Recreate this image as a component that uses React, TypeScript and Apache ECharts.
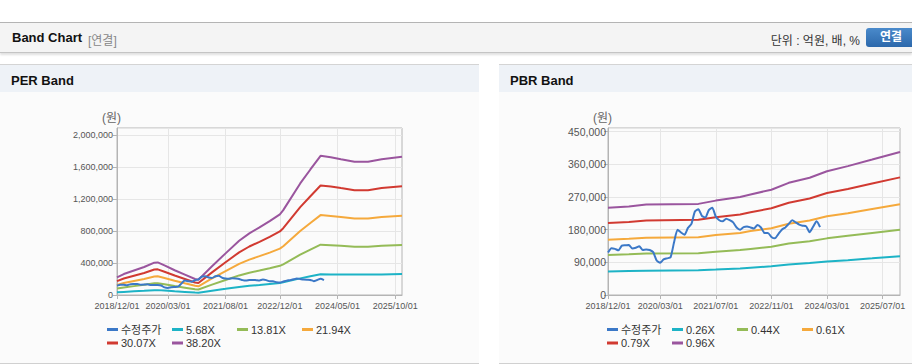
import React, { useEffect, useRef } from "react";
import * as echarts from "echarts";

// ---------- data ----------
const perTickLabels = ["2018/12/01", "2020/03/01", "2021/08/01", "2022/12/01", "2024/05/01", "2025/10/01"];
const pbrTickLabels = ["2018/12/01", "2020/03/01", "2021/07/01", "2022/11/01", "2024/03/01", "2025/07/01"];

const priceName = "수정주가";
const perBandNames = ["5.68X", "13.81X", "21.94X", "30.07X", "38.20X"];
const pbrBandNames = ["0.26X", "0.44X", "0.61X", "0.79X", "0.96X"];

// monthly adjusted price (원), 2018/12 .. 2024/01
const priceValues = [
  117000, 129000, 127000, 123000, 136000, 137000, 138000, 128000, 130000, 134000,
  124000, 125000, 124000, 118000, 95000, 89000, 98000, 101000, 104000, 145000,
  180000, 172000, 166000, 185000, 196000, 230000, 236000, 218000, 213000, 234000,
  240000, 216000, 206000, 203000, 210000, 206000, 200000, 186000, 180000, 187000,
  189000, 186000, 183000, 193000, 186000, 171000, 171000, 160000, 156000, 168000,
  180000, 186000, 196000, 206000, 200000, 194000, 191000, 189000, 173000, 188000,
  203000, 187000,
];

const perBandDates = [
  "2018/12/01", "2019/02/01", "2019/05/01", "2019/08/01", "2019/11/01", "2019/12/01", "2020/02/01",
  "2020/05/01", "2020/08/01", "2020/11/01", "2020/12/01", "2021/04/01", "2021/08/01", "2021/12/01",
  "2022/03/01", "2022/06/01", "2022/09/01", "2022/12/01", "2023/01/01", "2023/06/01", "2023/09/01",
  "2023/12/01", "2024/03/01", "2024/06/01", "2024/10/01", "2025/02/01", "2025/06/01", "2025/12/01",
];
const per568 = [33000, 39000, 46000, 52000, 60000, 61000, 55000, 46000, 38000, 30000, 28000, 54000, 77000, 101000, 115000, 126000, 138000, 150000, 158000, 208000, 234000, 259000, 258000, 256000, 255000, 255000, 258000, 262000];
const per1381 = [80000, 95000, 111000, 127000, 146000, 147000, 134000, 112000, 92000, 72000, 69000, 130000, 188000, 245000, 279000, 306000, 334000, 365000, 384000, 505000, 568000, 630000, 624000, 615000, 603000, 603000, 615000, 625000];
const per2194 = [127000, 150000, 176000, 201000, 232000, 234000, 212000, 178000, 146000, 115000, 109000, 207000, 299000, 390000, 443000, 486000, 531000, 580000, 610000, 801000, 902000, 1000000, 990000, 976000, 957000, 957000, 976000, 992000];
const per3007 = [174000, 206000, 241000, 275000, 319000, 321000, 291000, 244000, 201000, 157000, 150000, 283000, 410000, 534000, 607000, 666000, 728000, 795000, 836000, 1099000, 1236000, 1371000, 1358000, 1338000, 1312000, 1312000, 1338000, 1361000];
const per3820 = [221000, 262000, 306000, 350000, 405000, 408000, 370000, 310000, 255000, 200000, 190000, 360000, 521000, 679000, 771000, 846000, 925000, 1010000, 1062000, 1396000, 1571000, 1742000, 1725000, 1700000, 1667000, 1667000, 1700000, 1729000];

const pbrBandDates = [
  "2018/12/01", "2019/06/01", "2019/11/01", "2021/02/01", "2021/07/01", "2022/02/01", "2022/05/01",
  "2022/11/01", "2023/04/01", "2023/10/01", "2024/03/01", "2024/09/01", "2025/04/01", "2025/12/01",
];
const pbr026 = [65000, 66000, 67000, 68000, 70000, 73000, 75000, 79000, 84000, 88000, 92000, 96000, 101000, 107000];
const pbr044 = [110000, 112000, 114000, 115000, 119000, 124000, 127000, 133000, 142000, 148000, 156000, 163000, 171000, 180000];
const pbr061 = [152000, 155000, 158000, 159000, 165000, 171000, 176000, 184000, 196000, 205000, 217000, 225000, 237000, 250000];
const pbr079 = [198000, 201000, 205000, 207000, 214000, 222000, 228000, 239000, 254000, 266000, 281000, 292000, 307000, 324000];
const pbr096 = [240000, 244000, 249000, 251000, 260000, 270000, 277000, 290000, 309000, 323000, 341000, 355000, 373000, 394000];

const colors = ["#3b78c7", "#1db3c6", "#94bb57", "#f5a93c", "#d13a31", "#9a559e"];

// monthly category axis 2018/12 .. 2025/12
const months: string[] = [];
for (let m = 0; m <= 84; m++) {
  const t = 11 + m;
  months.push(`${2018 + Math.floor(t / 12)}/${String((t % 12) + 1).padStart(2, "0")}/01`);
}

const FONT = '"Liberation Sans", Arial, "Noto Sans CJK KR", sans-serif';

function buildOption(cfg: {
  tickLabels: string[];
  bandNames: string[];
  bandDates: string[];
  bands: number[][];
  yMax: number;
  yInterval: number;
  yFontSize: number;
  yMargin: number;
  gridLeft: number;
  gridWidth: number;
  legendLeft: number;
}) {
  const showAt = (idx: number) => cfg.tickLabels.includes(months[idx]);
  const names = [priceName, ...cfg.bandNames];
  const legends = names.map((n, i) => ({
    data: [n],
    left: cfg.legendLeft + (i % 4) * 65,
    top: 231 + Math.floor(i / 4) * 13.5,
    padding: 0,
    icon: "rect",
    itemWidth: 11,
    itemHeight: 3,
    itemGap: 3,
    textStyle: { fontSize: 11, color: "#333", fontFamily: FONT, padding: [0, 0, 0, -2] },
  }));
  const bandSeries = cfg.bands.map((vals, i) => ({
    name: cfg.bandNames[i],
    type: "line",
    data: cfg.bandDates.map((d, j) => [d, vals[j]]),
    showSymbol: false,
    symbol: "none",
    lineStyle: { width: 2, color: colors[i + 1] },
    itemStyle: { color: colors[i + 1] },
    z: 2,
  }));
  const priceSeries = {
    name: priceName,
    type: "line",
    data: priceValues.map((v, j) => [months[j], v]),
    showSymbol: false,
    symbol: "none",
    smooth: 0.2,
    lineStyle: { width: 2, color: colors[0] },
    itemStyle: { color: colors[0] },
    z: 3,
  };
  return {
    animation: false,
    textStyle: { fontFamily: FONT },
    legend: legends,
    grid: {
      left: cfg.gridLeft,
      top: 35,
      width: cfg.gridWidth,
      height: 167,
      show: true,
      borderColor: "#b4b4b4",
      borderWidth: 1,
      backgroundColor: "transparent",
    },
    xAxis: {
      type: "category",
      data: months,
      boundaryGap: false,
      axisLine: { lineStyle: { color: "#b4b4b4" } },
      axisTick: { interval: (i: number) => showAt(i), length: 4, lineStyle: { color: "#b4b4b4" } },
      axisLabel: {
        interval: (i: number) => showAt(i),
        color: "#555",
        fontSize: 9,
        margin: 6,
        fontFamily: FONT,
      },
      splitLine: { show: true, interval: (i: number) => showAt(i), lineStyle: { color: "#e6e6e6" } },
    },
    yAxis: {
      type: "value",
      min: 0,
      max: cfg.yMax,
      interval: cfg.yInterval,
      name: "(원)",
      nameGap: 4,
      nameTextStyle: { color: "#666", fontSize: 12, padding: [0, 11, 0, 0], fontFamily: FONT },
      axisLine: { show: true, lineStyle: { color: "#b4b4b4" } },
      axisTick: { show: true, length: 4, lineStyle: { color: "#b4b4b4" } },
      axisLabel: {
        color: "#555",
        fontSize: cfg.yFontSize,
        margin: cfg.yMargin,
        showMaxLabel: false,
        fontFamily: FONT,
        formatter: (v: number) => v.toLocaleString("en-US"),
      },
      splitLine: { show: true, lineStyle: { color: "#e6e6e6" } },
    },
    series: [...bandSeries, priceSeries],
  };
}

function Chart(props: { option: any; style: React.CSSProperties }) {
  const ref = useRef<HTMLDivElement>(null);
  useEffect(() => {
    if (!ref.current) return;
    const chart = echarts.init(ref.current, undefined, { renderer: "svg" });
    chart.setOption(props.option);
    return () => chart.dispose();
  }, []);
  return <div ref={ref} style={props.style} />;
}

export default function App() {
  const perOption = buildOption({
    tickLabels: perTickLabels,
    bandNames: perBandNames,
    bandDates: perBandDates,
    bands: [per568, per1381, per2194, per3007, per3820],
    yMax: 2090000,
    yInterval: 400000,
    yFontSize: 9,
    yMargin: 4,
    gridLeft: 117,
    gridWidth: 285,
    legendLeft: 107,
  });
  const pbrOption = buildOption({
    tickLabels: pbrTickLabels,
    bandNames: pbrBandNames,
    bandDates: pbrBandDates,
    bands: [pbr026, pbr044, pbr061, pbr079, pbr096],
    yMax: 460000,
    yInterval: 90000,
    yFontSize: 10.5,
    yMargin: 2,
    gridLeft: 109,
    gridWidth: 292,
    legendLeft: 108,
  });

  const panelHeader: React.CSSProperties = {
    position: "absolute",
    top: 0,
    left: 0,
    right: 0,
    height: 28,
    background: "#eef2f7",
    borderTop: "1px solid #d4d4d4",
    fontWeight: "bold",
    fontSize: 13,
    color: "#111",
    lineHeight: "31px",
    paddingLeft: 11,
    boxSizing: "border-box",
  };

  return (
    <div
      style={{
        position: "absolute",
        top: 0,
        left: 0,
        width: 912,
        height: 364,
        background: "#fff",
        fontFamily: '"Liberation Sans", Arial, "Noto Sans CJK KR", sans-serif',
        overflow: "hidden",
      }}
    >
      {/* top bar */}
      <div
        style={{
          position: "absolute",
          top: 22,
          left: 0,
          width: 912,
          height: 31,
          background: "#f4f4f4",
          borderTop: "1px solid #b4b4b4",
          borderBottom: "1px solid #c4c4c4",
          boxShadow: "0 2px 2px rgba(0,0,0,0.12)",
          boxSizing: "border-box",
        }}
      >
        <span style={{ position: "absolute", left: 12, top: 7, fontSize: 13, fontWeight: "bold", color: "#111" }}>
          Band Chart
        </span>
        <span style={{ position: "absolute", left: 88, top: 8, fontSize: 12, color: "#888" }}>[연결]</span>
        <span style={{ position: "absolute", right: 52, top: 8, fontSize: 12, color: "#333" }}>단위 : 억원, 배, %</span>
        <span
          style={{
            position: "absolute",
            left: 866,
            top: 5,
            width: 56,
            height: 19,
            borderRadius: 3,
            background: "linear-gradient(#4a8acb, #2c68ab)",
            color: "#fff",
            fontWeight: "bold",
            fontSize: 12,
            lineHeight: "19px",
            paddingLeft: 14,
            boxSizing: "border-box",
          }}
        >
          연결
        </span>
      </div>

      {/* PER panel */}
      <div
        style={{
          position: "absolute",
          top: 64,
          left: 0,
          width: 479,
          height: 299,
          background: "#fbfbfb",
          borderBottom: "1px solid #d0d0d0",
        }}
      >
        <div style={panelHeader}>PER Band</div>
        <Chart option={perOption} style={{ position: "absolute", top: 29, left: 0, width: 479, height: 269 }} />
      </div>

      {/* PBR panel */}
      <div
        style={{
          position: "absolute",
          top: 64,
          left: 499,
          width: 413,
          height: 299,
          background: "#fbfbfb",
          borderBottom: "1px solid #d0d0d0",
        }}
      >
        <div style={panelHeader}>PBR Band</div>
        <Chart option={pbrOption} style={{ position: "absolute", top: 29, left: 0, width: 413, height: 269 }} />
      </div>
    </div>
  );
}
